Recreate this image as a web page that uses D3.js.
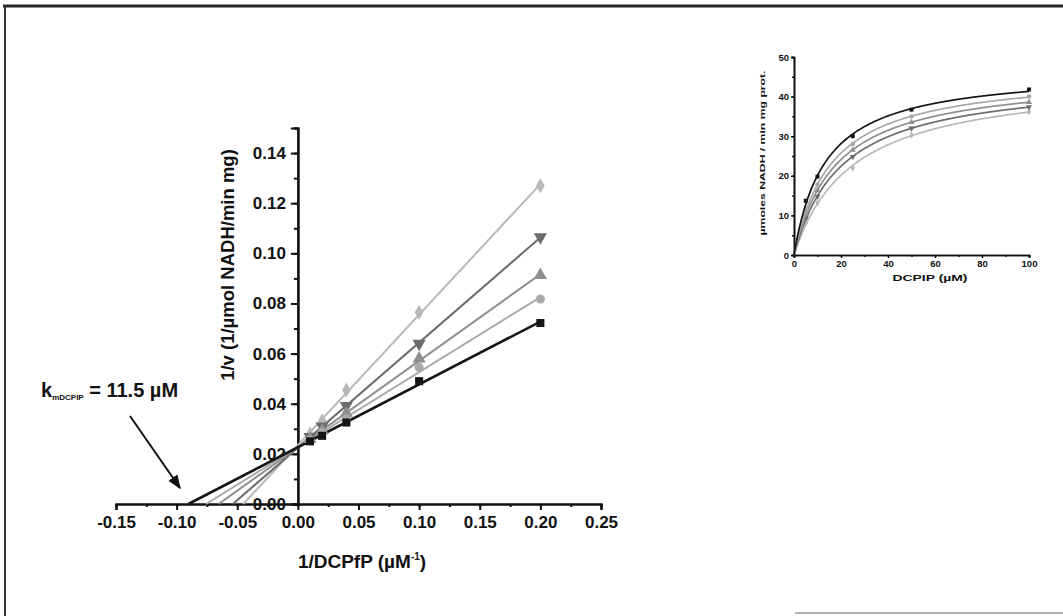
<!DOCTYPE html>
<html><head><meta charset="utf-8">
<script src="https://cdn.jsdelivr.net/npm/d3@7"></script>
<style>
body{margin:0;background:#fff}
svg{display:block}
text{font-family:"Liberation Sans",Arial,sans-serif;font-weight:bold;fill:#111}
</style>
</head><body>
<svg id="c" width="1063" height="616"></svg>
<script>
// ---- data (Lineweaver-Burk, main chart) ----
const invDCPIP = [0.01, 0.02, 0.04, 0.10, 0.20];           // 1/DCPIP (µM^-1)
const sBlackSquare = [0.0250, 0.0272, 0.0325, 0.0490, 0.0722];
const sCircle      = [0.0255, 0.0284, 0.0340, 0.0545, 0.0818];
const sTriUp       = [0.0259, 0.0293, 0.0362, 0.0580, 0.0913];
const sTriDown     = [0.0268, 0.0310, 0.0392, 0.0640, 0.1065];
const sDiamond     = [0.0278, 0.0332, 0.0455, 0.0765, 0.1270];
const xTickVals = [-0.15, -0.10, -0.05, 0.00, 0.05, 0.10, 0.15, 0.20, 0.25];
const yTickVals = [0.00, 0.02, 0.04, 0.06, 0.08, 0.10, 0.12, 0.14];

// ---- data (inset, Michaelis-Menten plot) ----
const insetConc = [0, 5, 10, 25, 50, 100];                  // DCPIP (µM)
const iBlackSquare = [0, 13.7, 19.8, 30.0, 36.7, 41.8];
const iCircle      = [0, 11.5, 17.8, 28.0, 35.0, 40.0];
const iTriUp       = [0, 10.3, 16.3, 26.5, 33.5, 38.6];
const iTriDown     = [0, 9.2, 14.8, 24.8, 32.0, 37.4];
const iDiamond     = [0, 8.0, 13.2, 22.0, 30.3, 36.2];
const insetXTicks = [0, 20, 40, 60, 80, 100];
const insetYTicks = [0, 10, 20, 30, 40, 50];

const series = [
  {vals: sDiamond,     ivals: iDiamond,     sym: d3.symbolDiamond,  rot: 0,   col: "#b9b9b9", w: 2},
  {vals: sTriDown,     ivals: iTriDown,     sym: d3.symbolTriangle, rot: 180, col: "#6c6c6c", w: 2},
  {vals: sTriUp,       ivals: iTriUp,       sym: d3.symbolTriangle, rot: 0,   col: "#8e8e8e", w: 2},
  {vals: sCircle,      ivals: iCircle,      sym: d3.symbolCircle,   rot: 0,   col: "#a9a9a9", w: 2},
  {vals: sBlackSquare, ivals: iBlackSquare, sym: d3.symbolSquare,   rot: 0,   col: "#151515", w: 2.6}
];
function linFit(xs, ys){
  const mx = d3.mean(xs), my = d3.mean(ys);
  let sxy=0, sxx=0;
  xs.forEach((x,i)=>{sxy+=(x-mx)*(ys[i]-my); sxx+=(x-mx)*(x-mx);});
  const m = sxy/sxx; return {m, b: my - m*mx};
}
function mmFit(cs, vs){ // least-squares grid search for Vmax, Km
  let best={e:Infinity};
  for(let V=30; V<=70; V+=0.2) for(let K=2; K<=40; K+=0.1){
    let e=0; cs.forEach((c,i)=>{const r=V*c/(K+c)-vs[i]; e+=r*r;});
    if(e<best.e) best={e,V,K};
  }
  return best;
}
series.forEach(s => { s.fit = linFit(invDCPIP, s.vals); s.mm = mmFit(insetConc, s.ivals); });

const svg = d3.select("#c");
// frame
svg.append("line").attr("x1",3).attr("x2",1063).attr("y1",6).attr("y2",6).attr("stroke","#222").attr("stroke-width",3);
svg.append("line").attr("x1",5).attr("x2",5).attr("y1",5).attr("y2",616).attr("stroke","#333").attr("stroke-width",2);
svg.append("line").attr("x1",795).attr("x2",1063).attr("y1",613).attr("y2",613).attr("stroke","#999").attr("stroke-width",1.5);

// ---- main chart ----
const x = d3.scaleLinear().domain([-0.15, 0.25]).range([116, 601]);
const y = d3.scaleLinear().domain([0, 0.15]).range([504, 128]);

function styleAxis(g, w){
  g.select(".domain").attr("stroke","#111").attr("stroke-width",w);
  g.selectAll(".tick line").attr("stroke","#111").attr("stroke-width",w*0.9);
}
const gx = svg.append("g").attr("transform",`translate(0,${y(0)})`)
  .call(d3.axisBottom(x).tickValues(d3.range(-0.15,0.2501,0.025)).tickSize(3))
  .call(g=>g.selectAll("text").remove());
const gx2 = svg.append("g").attr("transform",`translate(0,${y(0)})`)
  .call(d3.axisBottom(x).tickValues(xTickVals).tickSize(6).tickPadding(6).tickFormat(d=>d3.format(".2f")(d).replace("−","-")));
[gx,gx2].forEach(g=>styleAxis(g,2.2));
gx2.selectAll("text").attr("font-size",17).attr("fill","#111").attr("font-family",null);

const gy = svg.append("g").attr("transform",`translate(${x(0)},0)`)
  .call(d3.axisLeft(y).tickValues(d3.range(0,0.1501,0.01)).tickSize(4))
  .call(g=>g.selectAll("text").remove());
const gy2 = svg.append("g").attr("transform",`translate(${x(0)},0)`)
  .call(d3.axisLeft(y).tickValues(yTickVals).tickSize(7).tickPadding(5).tickFormat(d3.format(".2f")));
[gy,gy2].forEach(g=>styleAxis(g,2.2));
gy2.selectAll("text").attr("font-size",17).attr("fill","#111").attr("font-family",null);

// axis titles
const xt = svg.append("text").attr("x",362).attr("y",568).attr("text-anchor","middle").attr("font-size",19);
xt.append("tspan").text("1/DCPfP (µM");
xt.append("tspan").attr("font-size",10).attr("dy",-8).text("-1");
xt.append("tspan").attr("dy",8).text(")");
svg.append("text").attr("transform","translate(234,265) rotate(-90)").attr("text-anchor","middle")
  .attr("font-size",18.5).text("1/v (1/µmol NADH/min mg)");

// lines & markers
const lineGen = d3.line().x(d=>x(d[0])).y(d=>y(d[1]));
series.forEach(s=>{
  const x0 = -s.fit.b/s.fit.m, x1 = 0.2;
  svg.append("path").datum([[x0,0],[x1,s.fit.m*x1+s.fit.b]])
    .attr("d",lineGen).attr("fill","none").attr("stroke",s.col).attr("stroke-width",s.w);
});
series.forEach(s=>{
  svg.append("g").selectAll("path").data(invDCPIP.map((v,i)=>[v,s.vals[i]])).join("path")
    .attr("d",d3.symbol().type(s.sym).size(s.sym===d3.symbolTriangle?75:65))
    .attr("transform",d=>`translate(${x(d[0])},${y(d[1])}) rotate(${s.rot})`)
    .attr("fill",s.col);
});

// annotation
const ann = svg.append("text").attr("x",41).attr("y",397).attr("font-size",20);
ann.append("tspan").text("k");
ann.append("tspan").attr("font-size",8).attr("dy",3).text("mDCPIP");
ann.append("tspan").attr("dy",-3).text(" = 11.5 µM");
svg.append("defs").append("marker").attr("id","ah").attr("viewBox","0 0 10 10")
  .attr("refX",9).attr("refY",5).attr("markerWidth",7).attr("markerHeight",7).attr("orient","auto")
  .append("path").attr("d","M0,1 L10,5 L0,9 z").attr("fill","#111");
svg.append("line").attr("x1",130).attr("y1",416).attr("x2",180).attr("y2",488)
  .attr("stroke","#111").attr("stroke-width",2).attr("marker-end","url(#ah)");

// ---- inset ----
const ix = d3.scaleLinear().domain([0,100]).range([794,1029]);
const iy = d3.scaleLinear().domain([0,50]).range([255,57]);
const ig = svg.append("g");
const ixa = ig.append("g").attr("transform",`translate(0,255)`)
  .call(d3.axisBottom(ix).tickValues(d3.range(0,101,10)).tickSize(2)).call(g=>g.selectAll("text").remove());
const ixb = ig.append("g").attr("transform",`translate(0,255)`)
  .call(d3.axisBottom(ix).tickValues(insetXTicks).tickSize(3).tickPadding(2));
const iya = ig.append("g").attr("transform",`translate(794,0)`)
  .call(d3.axisLeft(iy).tickValues(d3.range(0,51,5)).tickSize(2)).call(g=>g.selectAll("text").remove());
const iyb = ig.append("g").attr("transform",`translate(794,0)`)
  .call(d3.axisLeft(iy).tickValues(insetYTicks).tickSize(3).tickPadding(2));
[ixa,ixb,iya,iyb].forEach(g=>{styleAxis(g,1.6);
  g.selectAll("text").attr("font-size",9.5).attr("fill","#111").attr("font-family",null);});
ig.append("text").attr("x",930).attr("y",281).attr("text-anchor","middle").attr("font-size",8.5)
  .attr("textLength",75).attr("lengthAdjust","spacingAndGlyphs").text("DCPIP (µM)");
ig.append("text").attr("transform","translate(765,153) rotate(-90)").attr("text-anchor","middle")
  .attr("font-size",8).attr("textLength",165).attr("lengthAdjust","spacingAndGlyphs").text("µmoles NADH / min mg prot.");

const ilGen = d3.line().x(d=>ix(d[0])).y(d=>iy(d[1])).curve(d3.curveMonotoneX);
series.forEach(s=>{
  const {V, K} = s.mm;
  const pts = d3.range(0,100.01,0.5).map(c=>[c, V*c/(K+c)]);
  ig.append("path").datum(pts).attr("d",ilGen).attr("fill","none")
    .attr("stroke",s.col).attr("stroke-width",1.7);
  ig.append("g").selectAll("path").data(insetConc.map((c,i)=>[c,s.ivals[i]]).filter(d=>d[0]>0)).join("path")
    .attr("d",d3.symbol().type(s.sym).size(16))
    .attr("transform",d=>`translate(${ix(d[0])},${iy(d[1])}) rotate(${s.rot})`)
    .attr("fill",s.col);
});
</script>
</body></html>
